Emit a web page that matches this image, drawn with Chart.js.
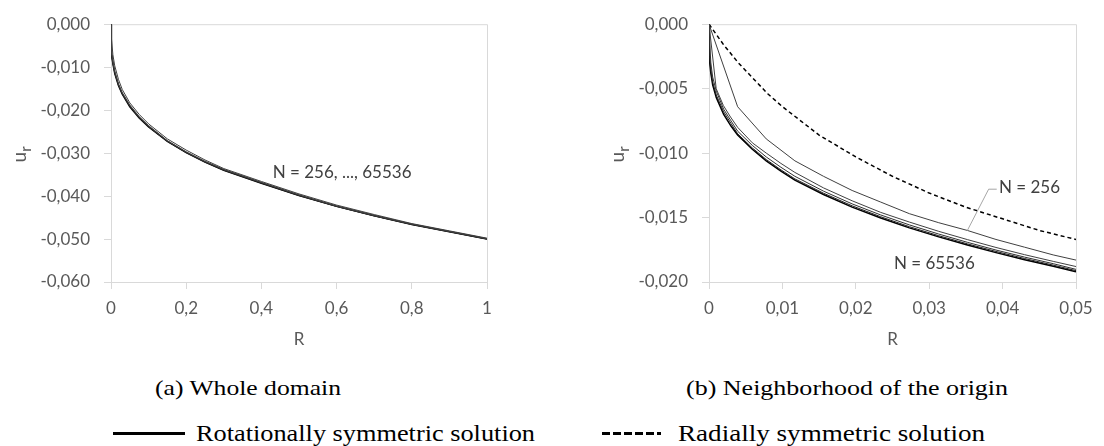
<!DOCTYPE html>
<html>
<head>
<meta charset="utf-8">
<script src="https://cdn.jsdelivr.net/npm/chart.js@4/dist/chart.umd.min.js"></script>
<style>
html,body{margin:0;padding:0;background:#fff;}
#wrap{position:relative;width:1104px;height:446px;overflow:hidden;background:#fff;}
canvas{position:absolute;top:0;}
#c1{left:0;}
#c2{left:552px;}
.txt{position:absolute;font-family:'Liberation Serif','DejaVu Serif',serif;color:#000;white-space:nowrap;transform-origin:left center;line-height:1;}
.cap{font-size:22px;}
.leg{font-size:24px;}
.solid{position:absolute;height:3px;background:#000;}
.dash{position:absolute;height:3px;background:repeating-linear-gradient(90deg,#000 0 8px,transparent 8px 11px);}
</style>
</head>
<body>
<div id="wrap">
  <canvas id="c1" width="552" height="360"></canvas>
  <canvas id="c2" width="552" height="360"></canvas>
  <div class="txt cap" id="capA" data-cx="248" data-cy="388" data-w="186">(a) Whole domain</div>
  <div class="txt cap" id="capB" data-cx="847" data-cy="388" data-w="322">(b) Neighborhood of the origin</div>
  <div class="solid" style="left:113px;top:432px;width:72px;"></div>
  <div class="txt leg" id="legA" data-x="196" data-cy="433" data-w="339">Rotationally symmetric solution</div>
  <div class="dash" style="left:602px;top:432px;width:59px;"></div>
  <div class="txt leg" id="legB" data-x="678" data-cy="433" data-w="307">Radially symmetric solution</div>
</div>
<script>
// ---------------- data ----------------
// (a) whole domain
const leftR      = [0, 0.0005, 0.001, 0.002, 0.005, 0.01, 0.02, 0.03, 0.05, 0.075, 0.1, 0.15, 0.2, 0.25, 0.3, 0.4, 0.5, 0.6, 0.7, 0.8, 0.9, 1.0];
const leftU256   = [0, -0.0008, -0.0016, -0.0033, -0.0071, -0.0097, -0.0129, -0.0152, -0.0183, -0.0210, -0.0232, -0.0267, -0.0293, -0.0316, -0.0336, -0.0366, -0.0395, -0.0421, -0.0443, -0.0464, -0.0481, -0.0498];
const leftU1024  = [0, -0.0026, -0.0050, -0.0063, -0.0086, -0.0109, -0.0139, -0.0159, -0.0188, -0.0215, -0.0236, -0.0271, -0.0297, -0.0319, -0.0338, -0.0368, -0.0397, -0.0423, -0.0445, -0.0465, -0.0482, -0.0499];
const leftU4096  = [0, -0.0041, -0.0052, -0.0066, -0.0089, -0.0112, -0.0141, -0.0161, -0.0190, -0.0217, -0.0238, -0.0272, -0.0298, -0.0320, -0.0339, -0.0369, -0.0398, -0.0424, -0.0446, -0.0466, -0.0483, -0.0500];
const leftU16384 = [0, -0.0045, -0.0055, -0.0068, -0.0091, -0.0114, -0.0142, -0.0162, -0.0191, -0.0218, -0.0239, -0.0273, -0.0299, -0.0321, -0.0340, -0.0370, -0.0399, -0.0424, -0.0446, -0.0466, -0.0483, -0.0500];
const leftU65536 = [0, -0.0047, -0.0057, -0.0070, -0.0092, -0.0115, -0.0143, -0.0163, -0.0192, -0.0218, -0.0239, -0.0273, -0.0299, -0.0321, -0.0340, -0.0370, -0.0399, -0.0424, -0.0446, -0.0466, -0.0483, -0.0500];

// (b) neighborhood of the origin
const r256   = [0, 0.0039, 0.0078, 0.0117, 0.0156, 0.0195, 0.0234, 0.0273, 0.0313, 0.0352, 0.0391, 0.043, 0.0469, 0.05];
const u256   = [0, -0.0064, -0.0089, -0.0106, -0.0118, -0.0129, -0.0138, -0.0147, -0.0154, -0.0160, -0.0167, -0.0173, -0.0179, -0.0183];
const r1024  = [0, 0.00098, 0.00195, 0.00293, 0.0039, 0.0059, 0.0078, 0.0098, 0.0117, 0.0156, 0.0195, 0.0234, 0.0273, 0.0313, 0.0352, 0.0391, 0.043, 0.0469, 0.05];
const u1024  = [0, -0.0050, -0.0063, -0.0072, -0.0080, -0.0092, -0.0100, -0.0108, -0.0115, -0.0127, -0.0137, -0.0146, -0.01535, -0.01607, -0.01671, -0.01732, -0.01788, -0.01840, -0.01880];
const rFine  = [0, 0.00003, 0.0001, 0.00025, 0.0005, 0.001, 0.002, 0.003, 0.0039, 0.0059, 0.0078, 0.0098, 0.0117, 0.0156, 0.0195, 0.0234, 0.0273, 0.0313, 0.0352, 0.0391, 0.043, 0.0469, 0.05];
const u4096  = [0, -0.00035, -0.0012, -0.0030, -0.0041, -0.0052, -0.0066, -0.0075, -0.0083, -0.0094, -0.0103, -0.0111, -0.0118, -0.01295, -0.01394, -0.01480, -0.01557, -0.01628, -0.01692, -0.01752, -0.01807, -0.01858, -0.01902];
const u16384 = [0, -0.0008, -0.0025, -0.0036, -0.0045, -0.0055, -0.0068, -0.0077, -0.0085, -0.0096, -0.0105, -0.0113, -0.0120, -0.01311, -0.01409, -0.01494, -0.01571, -0.01641, -0.01704, -0.01763, -0.01818, -0.01869, -0.01912];
const u65536 = [0, -0.0019, -0.0028, -0.0038, -0.0047, -0.0057, -0.0070, -0.0079, -0.0086, -0.0097, -0.0106, -0.0114, -0.0121, -0.01321, -0.01419, -0.01503, -0.01580, -0.01650, -0.01713, -0.01772, -0.01827, -0.01878, -0.01920];
const rRad   = [0, 0.002, 0.004, 0.006, 0.008, 0.01, 0.015, 0.02, 0.025, 0.03, 0.035, 0.04, 0.045, 0.05];
const uRad   = [0, -0.0016, -0.0030, -0.0042, -0.0054, -0.0064, -0.0086, -0.0103, -0.0118, -0.0131, -0.0142, -0.0151, -0.0160, -0.0167];

// ticks
const leftXTicks  = [0, 0.2, 0.4, 0.6, 0.8, 1];
const leftXLabels = ['0', '0,2', '0,4', '0,6', '0,8', '1'];
const leftYTicks  = [0, -0.01, -0.02, -0.03, -0.04, -0.05, -0.06];
const leftYLabels = ['0,000', '-0,010', '-0,020', '-0,030', '-0,040', '-0,050', '-0,060'];
const rightXTicks  = [0, 0.01, 0.02, 0.03, 0.04, 0.05];
const rightXLabels = ['0', '0,01', '0,02', '0,03', '0,04', '0,05'];
const rightYTicks  = [0, -0.005, -0.01, -0.015, -0.02];
const rightYLabels = ['0,000', '-0,005', '-0,010', '-0,015', '-0,020'];

// ---------------- helpers ----------------
const pts = (xs, ys) => xs.map((x, i) => ({x: x, y: ys[i]}));
const labelFor = (ticks, labels) => v => {
  let best = 0;
  ticks.forEach((t, i) => { if (Math.abs(t - v) < Math.abs(ticks[best] - v)) best = i; });
  return labels[best];
};
const TICK_FONT = {family: 'Lato, "Open Sans", sans-serif', size: 17};
const GREY = '#595959';
const AXIS = '#d9d9d9';

const framePlugin = {
  id: 'frame',
  beforeDatasetsDraw(chart) {
    const a = chart.chartArea, ctx = chart.ctx;
    ctx.save();
    ctx.strokeStyle = AXIS; ctx.lineWidth = 1;
    ctx.beginPath();
    ctx.moveTo(a.left, a.top + 0.5); ctx.lineTo(a.right + 0.5, a.top + 0.5);
    ctx.lineTo(a.right + 0.5, a.bottom);
    ctx.stroke();
    ctx.restore();
  }
};

const notesPlugin = {
  id: 'notes',
  afterDatasetsDraw(chart, args, opts) {
    const ctx = chart.ctx, xs = chart.scales.x, ys = chart.scales.y;
    ctx.save();
    (opts.lines || []).forEach(l => {
      ctx.strokeStyle = l.color; ctx.lineWidth = 1;
      ctx.beginPath();
      l.pts.forEach((p, i) => {
        const px = xs.getPixelForValue(p[0]), py = ys.getPixelForValue(p[1]);
        if (i === 0) ctx.moveTo(px, py); else ctx.lineTo(px, py);
      });
      ctx.stroke();
    });
    (opts.texts || []).forEach(t => {
      ctx.fillStyle = '#404040';
      ctx.font = '17px Lato, "Open Sans", sans-serif';
      ctx.textAlign = 'left'; ctx.textBaseline = 'middle';
      ctx.fillText(t.text, xs.getPixelForValue(t.x), ys.getPixelForValue(t.y));
    });
    // y-axis title u_r
    const u = opts.ytitle;
    if (u) {
      const cx = u.x, cy = (chart.chartArea.top + chart.chartArea.bottom) / 2;
      ctx.translate(cx, cy);
      ctx.rotate(-Math.PI / 2);
      ctx.fillStyle = GREY;
      ctx.textBaseline = 'alphabetic';
      ctx.textAlign = 'left';
      ctx.font = '19px Lato, "Open Sans", sans-serif';
      const wu = ctx.measureText('u').width;
      ctx.fillText('u', -wu / 2 - 4, 6);
      ctx.font = '15px Lato, "Open Sans", sans-serif';
      ctx.fillText('r', wu / 2 - 4, 11);
    }
    ctx.restore();
  }
};

function makeChart(id, cfg) {
  const ds = cfg.series.map(s => ({
    data: s.data, showLine: true, pointRadius: 0, borderWidth: s.w, borderColor: s.c,
    borderDash: s.dash || [], tension: 0, fill: false
  }));
  return new Chart(document.getElementById(id), {
    type: 'scatter',
    data: {datasets: ds},
    plugins: [framePlugin, notesPlugin],
    options: {
      responsive: false, animation: false, devicePixelRatio: 1,
      layout: {padding: {top: 23, right: cfg.padRight, left: 0, bottom: 0}},
      plugins: {legend: {display: false}, tooltip: {enabled: false},
        notes: {texts: cfg.texts, lines: cfg.lines, ytitle: {x: cfg.ytitleX}}},
      scales: {
        x: {
          type: 'linear', min: cfg.xTicks[0], max: cfg.xTicks[cfg.xTicks.length - 1],
          afterBuildTicks: s => { s.ticks = cfg.xTicks.map(v => ({value: v})); },
          afterFit: s => { s.height = 78; },
          ticks: {callback: labelFor(cfg.xTicks, cfg.xLabels), color: GREY, font: TICK_FONT, padding: 9, maxRotation: 0, autoSkip: false},
          grid: {drawOnChartArea: false, drawTicks: true, tickLength: 7, color: AXIS},
          border: {color: AXIS},
          title: {display: true, text: 'R', color: GREY, font: TICK_FONT, padding: {top: 6, bottom: 10}}
        },
        y: {
          type: 'linear', min: cfg.yTicks[cfg.yTicks.length - 1], max: cfg.yTicks[0],
          afterBuildTicks: s => { s.ticks = cfg.yTicks.slice().reverse().map(v => ({value: v})); },
          afterFit: s => { s.width = cfg.yWidth; },
          ticks: {callback: labelFor(cfg.yTicks, cfg.yLabels), color: GREY, font: TICK_FONT, padding: 14, autoSkip: false},
          grid: {drawOnChartArea: false, drawTicks: true, tickLength: 7, color: AXIS},
          border: {color: AXIS}
        }
      }
    }
  });
}

makeChart('c1', {
  series: [
    {data: pts(leftR, leftU256), w: 1, c: '#404040'},
    {data: pts(leftR, leftU1024), w: 1, c: '#404040'},
    {data: pts(leftR, leftU4096), w: 1, c: '#303030'},
    {data: pts(leftR, leftU16384), w: 1, c: '#202020'},
    {data: pts(leftR, leftU65536), w: 1.5, c: '#000000'}
  ],
  xTicks: leftXTicks, xLabels: leftXLabels, yTicks: leftYTicks, yLabels: leftYLabels,
  yWidth: 111, padRight: 65, ytitleX: 20,
  texts: [{text: 'N = 256, ..., 65536', x: 0.43, y: -0.0345}],
  lines: []
});

makeChart('c2', {
  series: [
    {data: pts(r256, u256), w: 1, c: '#404040'},
    {data: pts(r1024, u1024), w: 1, c: '#404040'},
    {data: pts(rFine, u4096), w: 1, c: '#303030'},
    {data: pts(rFine, u16384), w: 1, c: '#202020'},
    {data: pts(rFine, u65536), w: 1.5, c: '#000000'},
    {data: pts(rRad, uRad), w: 1.5, c: '#000000', dash: [4, 3]}
  ],
  xTicks: rightXTicks, xLabels: rightXLabels, yTicks: rightYTicks, yLabels: rightYLabels,
  yWidth: 157, padRight: 28, ytitleX: 618 - 552,
  texts: [{text: 'N = 256', x: 0.0395, y: -0.0127}, {text: 'N = 65536', x: 0.0252, y: -0.0186}],
  lines: [{color: '#a6a6a6', pts: [[0.0352, -0.0160], [0.0381, -0.0128], [0.0392, -0.0128]]}]
});

// place serif captions / legend texts; fit horizontally to the reference width
document.querySelectorAll('.txt').forEach(el => {
  const w = el.getBoundingClientRect().width;
  const target = +el.dataset.w;
  const sx = target / w;
  const h = el.getBoundingClientRect().height;
  const left = el.dataset.cx ? (+el.dataset.cx - target / 2) : +el.dataset.x;
  el.style.left = left + 'px';
  el.style.top = (+el.dataset.cy - h / 2) + 'px';
  el.style.transform = 'scaleX(' + sx.toFixed(3) + ')';
});
</script>
</body>
</html>
